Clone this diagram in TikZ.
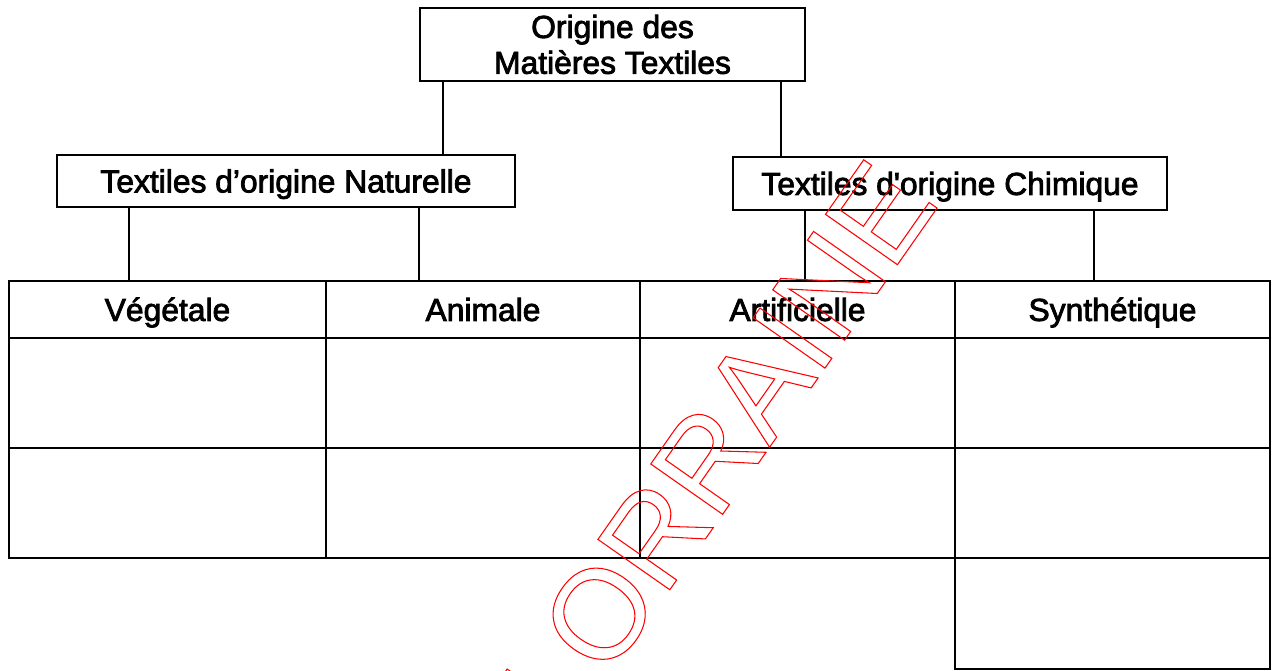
\documentclass[tikz,border=0pt]{standalone}
\usepackage{fontspec}
\setmainfont{Liberation Sans}
\newcommand{\scanink}{\special{pdf:literal direct 2 Tr 0.45 w}}
\begin{document}
\begin{tikzpicture}[x=0.02cm, y=-0.02cm]

        % Styles
        \tikzstyle{frame}=[draw, line width=1.1pt]
        \tikzstyle{title box}=[frame, inner sep=0pt, align=center, font=\fontsize{18.1}{20.4}\selectfont\scanink]
        \tikzstyle{one line}=[text height=16pt, text depth=3pt]
        \tikzstyle{head cell}=[frame, one line, inner sep=0pt, minimum height=1.14cm, font=\fontsize{18.1}{20.4}\selectfont\scanink]
        \tikzstyle{stamp}=[inner sep=0pt, text=red, font=\fontsize{72.6}{80}\selectfont]
        \useasboundingbox (0,0) rectangle (1273,671);
        %The graphic
        %title boxes
        \node[title box, minimum width=7.70cm, minimum height=1.46cm] (origine) at (612.5,44.5) {Origine des\\Matières Textiles};
        \node[title box, one line, minimum width=9.16cm, minimum height=1.04cm] (nat) at (286,181) {Textiles d’origine Naturelle};
        \node[title box, one line, minimum width=8.68cm, minimum height=1.06cm] (chi) at (950,183.5) {Textiles d\textquotesingle origine Chimique};
        %table head
        \node[head cell, minimum width=6.34cm] (veg) at (167.5,309.5) {Végétale};
        \node[head cell, minimum width=6.28cm] (ani) at (483,309.5) {Animale};
        \node[head cell, minimum width=6.30cm] (art) at (797.5,309.5) {Artificielle};
        \node[head cell, minimum width=6.30cm] (syn) at (1112.5,309.5) {Synthétique};
        %links
        \draw[frame] (origine.south -| 443,0) -- (nat.north -| 443,0);
        \draw[frame] (origine.south -| 781,0) -- (chi.north -| 781,0);
        \foreach \from/\to/\x in {nat/veg/129, nat/ani/419, chi/art/805, chi/syn/1094}
            \draw[frame] (\from.south -| \x,0) -- (\to.north -| \x,0);
        %empty cells
        \foreach \l/\r in {9/326, 326/640, 640/955, 955/1270}
        {
            \draw[frame] (\l,338) rectangle (\r,448);
            \draw[frame] (\l,448) rectangle (\r,558);
        }
        \draw[frame] (955,558) rectangle (1270,669);
        %stamp
        \begin{scope}
            \clip (0,0) rectangle (1273,671);
            \node[stamp, anchor=base west, rotate=55] (lorraine) at (566,738) {\special{pdf:literal direct 1 Tr 0.6 w}LORRAINE\special{pdf:literal direct 0 Tr}};
        \end{scope}
\end{tikzpicture}
\end{document}
